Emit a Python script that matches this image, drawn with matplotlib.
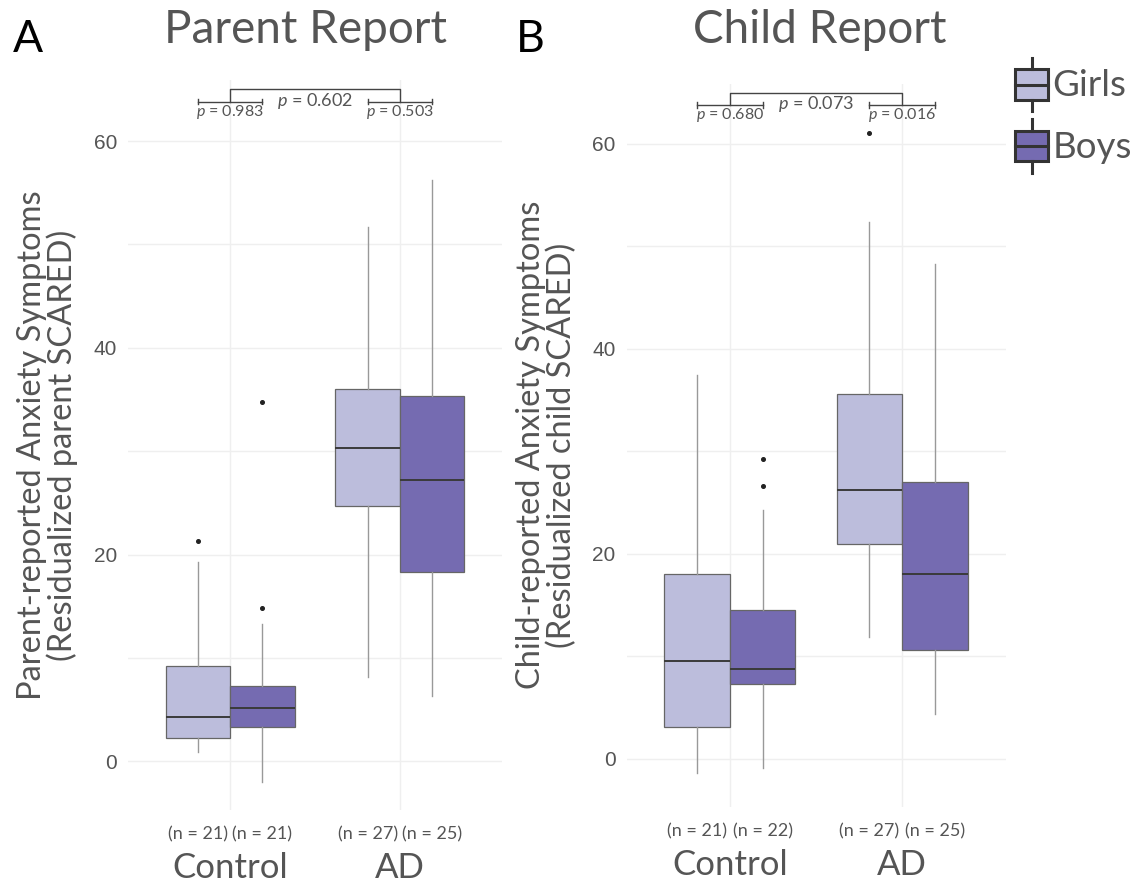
import matplotlib
matplotlib.use("Agg")
import matplotlib.pyplot as plt
from matplotlib.patches import Patch, Rectangle
from matplotlib.lines import Line2D
from matplotlib.legend_handler import HandlerBase
import matplotlib.transforms as mtrans

plt.rcParams['font.family'] = ['Lato', 'DejaVu Sans']
plt.rcParams['mathtext.fontset'] = 'custom'
plt.rcParams['mathtext.rm'] = 'Lato'
plt.rcParams['mathtext.it'] = 'Lato:italic'

# ----------------- DATA -----------------
groups = ["Control", "AD"]
sexes = ["Girls", "Boys"]

# box stats per panel: [group][sex] -> (whislo, q1, med, q3, whishi)
parent_stats = [[(0.9, 2.3, 4.3, 9.2, 19.3), (-2.0, 3.3, 5.2, 7.3, 13.3)],
                [(8.2, 24.7, 30.3, 36.0, 51.7), (6.3, 18.3, 27.2, 35.3, 56.2)]]
parent_fliers = [[[21.3], [14.8, 34.8]],
                 [[], []]]
parent_n = [[21, 21], [27, 25]]
parent_p_within = ["0.983", "0.503"]
parent_p_between = "0.602"

child_stats = [[(-1.4, 3.1, 9.5, 18.0, 37.5), (-0.9, 7.3, 8.8, 14.5, 24.3)],
               [(11.9, 21.0, 26.2, 35.6, 52.4), (4.4, 10.6, 18.0, 27.0, 48.3)]]
child_fliers = [[[], [26.6, 29.3]],
                [[61.1], []]]
child_n = [[21, 22], [27, 25]]
child_p_within = ["0.680", "0.016"]
child_p_between = "0.073"

panels = [
    ("A", "Parent Report", "Parent-reported Anxiety Symptoms\n(Residualized parent SCARED)",
     parent_stats, parent_fliers, parent_n, parent_p_within, parent_p_between),
    ("B", "Child Report", "Child-reported Anxiety Symptoms\n(Residualized child SCARED)",
     child_stats, child_fliers, child_n, child_p_within, child_p_between),
]
# --------------------------------------------------------------

FILLS = {"Girls": "#BCBDDC", "Boys": "#756BB1"}
TXT = "#555555"
GRID = "#EFEFEF"
OFFSET = 0.19
WIDTH = 0.38

fig = plt.figure(figsize=(11.35, 8.84), dpi=100)
axes_pos = [[0.113, 0.0837, 0.329, 0.8258], [0.552, 0.0871, 0.334, 0.8184]]
title_x = [305 / 1135, 820 / 1135]
letter_x = [28 / 1135, 530 / 1135]

for (letter, title, ylabel, stats, fliers, ns, p_within, p_between), pos, tx, lx in zip(
        panels, axes_pos, title_x, letter_x):
    ax = fig.add_axes(pos)
    bxp_stats, positions, colors = [], [], []
    for gi, g in enumerate(groups):
        for si, s in enumerate(sexes):
            lo, q1, med, q3, hi = stats[gi][si]
            bxp_stats.append(dict(whislo=lo, q1=q1, med=med, q3=q3, whishi=hi,
                                  fliers=fliers[gi][si]))
            positions.append(gi + (-OFFSET if si == 0 else OFFSET))
            colors.append(FILLS[s])
    bp = ax.bxp(bxp_stats, positions=positions, widths=WIDTH, patch_artist=True,
                showcaps=False,
                boxprops=dict(edgecolor="#666666", linewidth=0.9),
                medianprops=dict(color="#3a3a3a", linewidth=1.4),
                whiskerprops=dict(color="#999999", linewidth=1.0),
                flierprops=dict(marker="o", markersize=2.6, markerfacecolor="#222222",
                                markeredgecolor="#222222"),
                manage_ticks=False, zorder=3)
    for patch, c in zip(bp["boxes"], colors):
        patch.set_facecolor(c)

    ax.set_xlim(-0.6, 1.6)
    ax.set_ylim(-4.7, 65.9)
    ax.set_yticks([0, 20, 40, 60])
    ax.set_yticks([10, 30, 50], minor=True)
    ax.set_xticks([0, 1])
    ax.set_xticklabels(groups, fontsize=25, color=TXT)
    ax.tick_params(axis="x", length=0, pad=30)
    ax.tick_params(axis="y", which="both", length=0, pad=8, labelsize=15, labelcolor=TXT)
    for lbl in ax.get_yticklabels():
        lbl.set_family(["Liberation Sans", "DejaVu Sans"])
    ax.grid(True, which="both", color=GRID, linewidth=1.0, zorder=0)
    ax.set_axisbelow(True)
    for sp in ax.spines.values():
        sp.set_visible(False)

    ax.set_ylabel(ylabel, fontsize=23.5, color=TXT, linespacing=1.0, labelpad=11)
    fig.text(tx, 1 - 30 / 884, title, fontsize=33, color=TXT, ha="center", va="center")
    fig.text(lx, 1 - 40 / 884, letter, fontsize=32, color="black", ha="center",
             va="center")

    # n labels below the boxes
    trans = mtrans.blended_transform_factory(ax.transData, ax.transAxes)
    for gi in range(len(groups)):
        for si in range(len(sexes)):
            x = gi + (-OFFSET if si == 0 else OFFSET)
            ax.text(x, -0.033, f"(n = {ns[gi][si]})", transform=trans, ha="center",
                    va="center", fontsize=13, color=TXT, clip_on=False)

    # significance brackets
    ytop, ylow, ytxt = 65.0, 63.8, 62.8
    ax.plot([0, 0, 1, 1], [ylow, ytop, ytop, ylow], color="#444444", lw=1.0, clip_on=False)
    ax.text(0.5, 63.9, r"$\it{p}$ = " + p_between, ha="center", va="center",
            fontsize=13, color=TXT, clip_on=False)
    for gi in range(len(groups)):
        x0, x1 = gi - OFFSET, gi + OFFSET
        ax.plot([x0, x1], [ylow, ylow], color="#444444", lw=1.0, clip_on=False)
        for xe in (x0, x1):
            ax.plot([xe, xe], [ylow - 0.25, ylow + 0.25], color="#444444", lw=1.0,
                    clip_on=False)
        ax.text(gi, ytxt, r"$\it{p}$ = " + p_within[gi], ha="center", va="center",
                fontsize=11.5, color=TXT, clip_on=False)


class BoxHandler(HandlerBase):
    def create_artists(self, legend, orig_handle, xdescent, ydescent, width, height,
                       fontsize, trans):
        cx = width / 2 - xdescent
        bh = height * 0.58
        by = (height - bh) / 2 - ydescent
        rect = Rectangle((-xdescent, by), width, bh, facecolor=orig_handle.get_facecolor(),
                         edgecolor="#333333", lw=2.2, transform=trans)
        med = Line2D([-xdescent, width - xdescent], [by + bh / 2] * 2, color="#333333",
                     lw=2.2, transform=trans)
        w1 = Line2D([cx, cx], [by + bh, height - ydescent], color="#333333", lw=2.2,
                    transform=trans)
        w2 = Line2D([cx, cx], [-ydescent, by], color="#333333", lw=2.2, transform=trans)
        return [rect, med, w1, w2]


handles = [Patch(facecolor=FILLS[s], label=s) for s in sexes]
fig.legend(handles=handles, loc="upper left", bbox_to_anchor=(1015 / 1135, 1 - 58 / 884),
           frameon=False, fontsize=26.5, labelcolor=TXT,
           handler_map={Patch: BoxHandler()}, handlelength=0.9, handleheight=1.85,
           handletextpad=0.12, labelspacing=0.22, borderaxespad=0.0, borderpad=0.0)

fig.savefig("out.png", dpi=100)
